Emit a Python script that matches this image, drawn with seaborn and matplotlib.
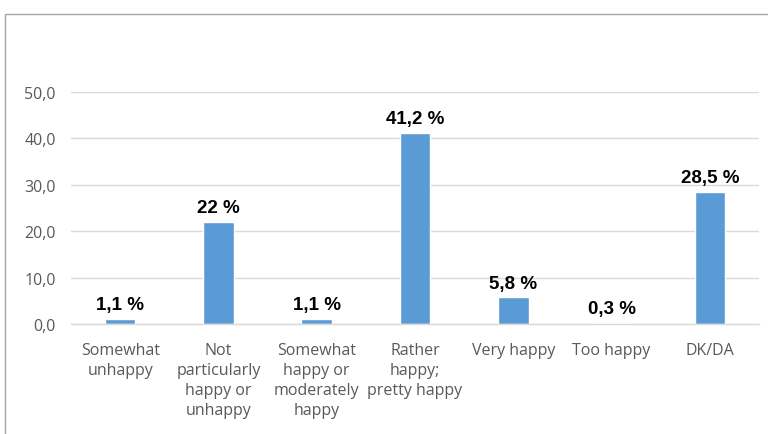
import matplotlib
matplotlib.use("Agg")
import matplotlib.pyplot as plt
import seaborn as sns
import pandas as pd
from matplotlib.patches import Rectangle

categories = ["Somewhat\nunhappy", "Not\nparticularly\nhappy or\nunhappy",
              "Somewhat\nhappy or\nmoderately\nhappy", "Rather\nhappy;\npretty happy",
              "Very happy", "Too happy", "DK/DA"]
values = [1.1, 22, 1.1, 41.2, 5.8, 0.3, 28.5]
value_labels = ["1,1 %", "22 %", "1,1 %", "41,2 %", "5,8 %", "0,3 %", "28,5 %"]
yticks = [0, 10, 20, 30, 40, 50]
ytick_labels = ["0,0", "10,0", "20,0", "30,0", "40,0", "50,0"]

sns.set_theme(style="white")
plt.rcParams['font.family'] = ['Open Sans', 'DejaVu Sans']

df = pd.DataFrame({"cat": categories, "val": values})

fig = plt.figure(figsize=(7.68, 4.35), dpi=100)
ax = fig.add_axes([71/768, 1-325/435, (759-71)/768, (325-93)/435])

sns.barplot(data=df, x="cat", y="val", color="#5b9bd5", width=0.31, ax=ax,
            saturation=1)

ax.set_ylim(0, 50)
ax.set_yticks(yticks)
ax.set_yticklabels(ytick_labels, color="#595959", fontsize=11.5)
ax.tick_params(axis="y", length=0, pad=11)
ax.tick_params(axis="x", length=0, pad=13, labelcolor="#595959", labelsize=11.5)
for lbl in ax.get_xticklabels():
    lbl.set_linespacing(1.33)
ax.set_xlabel("")
ax.set_ylabel("")
ax.grid(axis="y", color="#d9d9d9", linewidth=1)
ax.set_axisbelow(True)
for s in ["top", "right", "left"]:
    ax.spines[s].set_visible(False)
ax.spines["bottom"].set_color("#d9d9d9")
ax.spines["bottom"].set_linewidth(1)

for i, (v, t) in enumerate(zip(values, value_labels)):
    ax.annotate(t, (i, v), xytext=(0, 4), textcoords="offset points",
                ha="center", va="bottom", fontsize=13.5, fontweight="bold",
                family="Liberation Sans", color="black")

frame = Rectangle((5/768, -0.1), 1.2, 1-15/435+0.1, transform=fig.transFigure,
                  fill=False, edgecolor="#a6a6a6", linewidth=1, clip_on=False)
fig.patches.append(frame)

fig.savefig("out.png", dpi=100)
